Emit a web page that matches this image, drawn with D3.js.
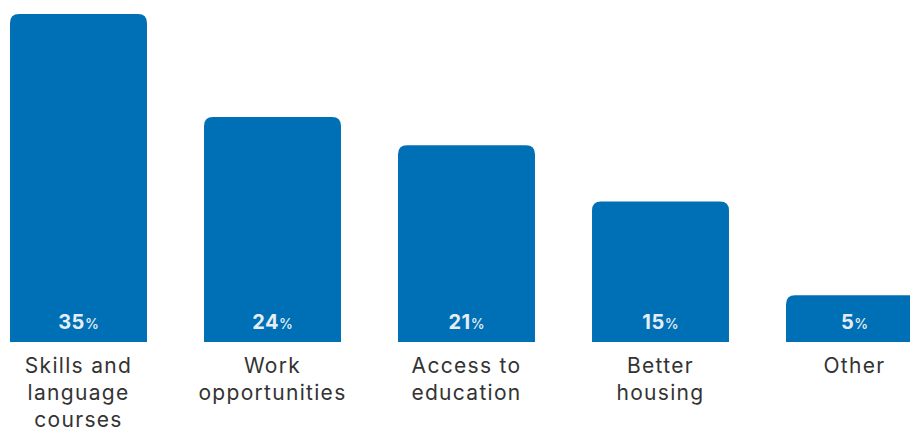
<!DOCTYPE html>
<html><head><meta charset="utf-8">
<script src="https://cdn.jsdelivr.net/npm/d3@7"></script>
<style>body{margin:0;background:#fff}svg{display:block}</style>
</head><body><svg id="c" width="910" height="431"></svg>
<script>
const categories = ["Skills and|language|courses", "Work|opportunities", "Access to|education", "Better|housing", "Other"];
const values = [35, 24, 21, 15, 5];

const svg = d3.select("#c");
const x = d3.scaleBand().domain(categories).range([-18.5, 951.5]).paddingInner(0.294).paddingOuter(0.147);
const y = d3.scaleLinear().domain([0, 35]).range([342, 14]);
const r = 9;
const font = "Inter, 'Open Sans', sans-serif";

svg.selectAll("path.bar").data(categories).join("path").attr("class","bar")
  .attr("fill", "#0070b6")
  .attr("d", (d,i) => {
    const x0 = x(d), w = x.bandwidth(), y0 = y(values[i]), yb = y(0);
    return `M${x0},${yb}V${y0+r}Q${x0},${y0} ${x0+r},${y0}H${x0+w-r}Q${x0+w},${y0} ${x0+w},${y0+r}V${yb}Z`;
  });

const vt = svg.selectAll("text.val").data(categories).join("text").attr("class","val")
  .attr("x", d => x(d) + x.bandwidth()/2).attr("y", 329)
  .attr("text-anchor","middle").attr("fill","#e6edf4").style("font-family", font);
vt.append("tspan").attr("font-size", 20).attr("font-weight", 700).attr("letter-spacing", 0.5).text((d,i)=>values[i]);
vt.append("tspan").attr("font-size", 14).attr("font-weight", 500).text("%");

svg.selectAll("text.cat").data(categories).join("text").attr("class","cat")
  .attr("x", d => x(d) + x.bandwidth()/2).attr("y", 373)
  .attr("text-anchor","middle").attr("fill","#333").attr("font-size", 21)
  .attr("letter-spacing", 1.3)
  .style("font-family", font)
  .each(function(d){
    const t = d3.select(this);
    d.split("|").forEach((ln, k) => t.append("tspan").attr("x", x(d)+x.bandwidth()/2).attr("dy", k ? 27 : 0).text(ln));
  });
</script></body></html>
